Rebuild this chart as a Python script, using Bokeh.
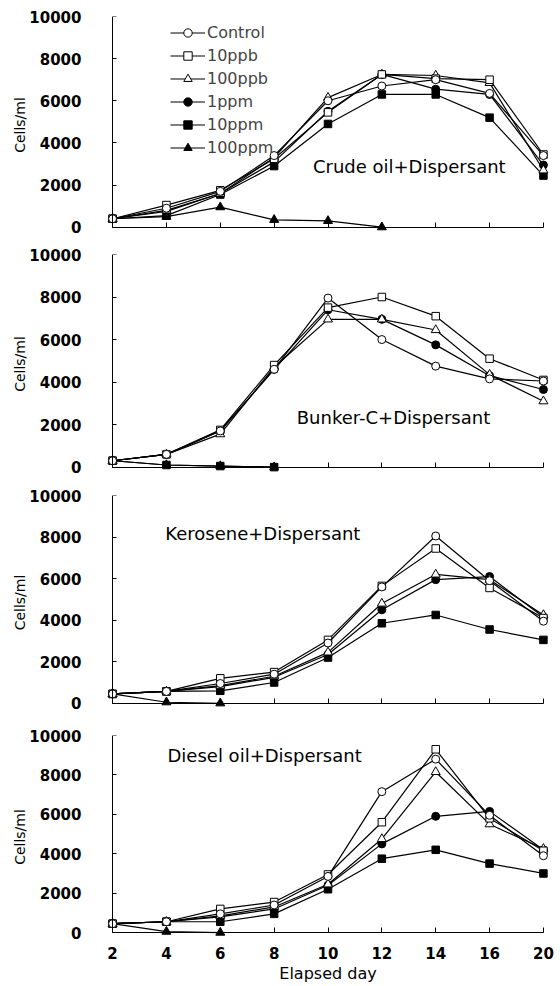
from bokeh.plotting import figure
from bokeh.layouts import column
from bokeh.models import (Range1d, FixedTicker, Label, Legend, LegendItem, LinearAxis,
                          CustomLabelingPolicy)
from bokeh.embed import file_html
from bokeh.resources import INLINE

days = ["2", "4", "6", "8", "10", "12", "14", "16", "20"]
series_names = ["Control", "10ppb", "100ppb", "1ppm", "10ppm", "100ppm"]
y_ticks = [0, 2000, 4000, 6000, 8000, 10000]

crude_control = [400, 900, 1700, 3400, 6000, 6700, 7000, 6350, 3400]
crude_10ppb = [400, 1050, 1750, 3250, 5450, 7250, 7050, 7000, 3450]
crude_100ppb = [400, 800, 1600, 3300, 6150, 7250, 7200, 6850, 2700]
crude_1ppm = [400, 750, 1600, 3100, 5500, 7250, 6550, 6300, 2950]
crude_10ppm = [400, 550, 1550, 2900, 4900, 6300, 6300, 5200, 2450]
crude_100ppm = [400, 500, 950, 350, 300, 0]

bunker_control = [300, 600, 1700, 4600, 7950, 6000, 4750, 4150, 4050]
bunker_10ppb = [300, 600, 1750, 4800, 7500, 8000, 7100, 5100, 4100]
bunker_100ppb = [300, 600, 1550, 4700, 6950, 6950, 6450, 4350, 3100]
bunker_1ppm = [300, 600, 1700, 4600, 7400, 6950, 5750, 4300, 3650]
bunker_10ppm = [300, 100, 50, 0]
bunker_100ppm = [300, 100, 50, 0]

kero_control = [450, 570, 950, 1400, 2900, 5600, 8050, 5900, 3950]
kero_10ppb = [450, 570, 1200, 1500, 3050, 5650, 7450, 5550, 4100]
kero_100ppb = [450, 570, 850, 1300, 2450, 4800, 6200, 5950, 4250]
kero_1ppm = [450, 570, 800, 1250, 2350, 4500, 5950, 6100, 4150]
kero_10ppm = [450, 570, 600, 1000, 2200, 3850, 4250, 3550, 3050]
kero_100ppm = [450, 50, 0]

diesel_control = [450, 550, 950, 1400, 2850, 7150, 8800, 5950, 3900]
diesel_10ppb = [450, 550, 1200, 1550, 2950, 5600, 9300, 5800, 4150]
diesel_100ppb = [450, 550, 850, 1300, 2450, 4750, 8150, 5500, 4250]
diesel_1ppm = [450, 550, 800, 1200, 2400, 4500, 5900, 6150, 4200]
diesel_10ppm = [450, 550, 550, 950, 2200, 3750, 4200, 3500, 3000]
diesel_100ppm = [450, 50, 0]

FONT = "DejaVu Sans"
STYLES = {
    "Control": ("circle", "white", 8),
    "10ppb": ("square", "white", 7.5),
    "100ppb": ("triangle", "white", 9),
    "1ppm": ("circle", "black", 8),
    "10ppm": ("square", "black", 7.5),
    "100ppm": ("triangle", "black", 9),
}

HIDE_CODE = """
try {
  const ids = Array.from(indices);
  for (const i of ids) { indices.unset(i); }
} catch (e) {}
return indices;
"""


def fixed_axis(bounds, ticks, tick_in):
    ax = LinearAxis(fixed_location=0, bounds=bounds, ticker=FixedTicker(ticks=ticks),
                    major_tick_in=tick_in, major_tick_out=0, minor_tick_line_color=None,
                    axis_line_color="black", major_tick_line_color="black",
                    major_label_standoff=0, major_label_text_font_size="0px",
                    major_label_policy=CustomLabelingPolicy(code=HIDE_CODE))
    return ax


def make_panel(series, title, tx, ty, frame_h, b_top, b_bottom, show_x, legend_pos=None):
    p = figure(frame_width=447, frame_height=frame_h,
               x_range=Range1d(-0.15, 8.15), y_range=Range1d(-300, 10000),
               output_backend="svg", toolbar_location=None,
               min_border_left=104, min_border_right=9,
               min_border_top=b_top, min_border_bottom=b_bottom)
    p.outline_line_color = None
    p.grid.visible = False
    p.background_fill_color = "white"

    # label-only axes on the frame edges
    ya = p.yaxis[0]
    ya.ticker = FixedTicker(ticks=y_ticks)
    ya.axis_line_color = None
    ya.major_tick_line_color = None
    ya.minor_tick_line_color = None
    ya.major_label_text_font = FONT
    ya.major_label_text_font_size = "15px"
    ya.major_label_text_font_style = "bold"
    ya.major_label_text_color = "black"
    ya.major_label_standoff = 17
    ya.axis_label = "Cells/ml"
    ya.axis_label_text_font = FONT
    ya.axis_label_text_font_size = "14px"
    ya.axis_label_text_font_style = "normal"
    ya.axis_label_text_color = "black"
    ya.axis_label_standoff = -2

    xa = p.xaxis[0]
    if show_x:
        xa.ticker = FixedTicker(ticks=list(range(len(days))))
        xa.major_label_overrides = {i: d for i, d in enumerate(days)}
        xa.axis_line_color = None
        xa.major_tick_line_color = None
        xa.minor_tick_line_color = None
        xa.major_label_text_font = FONT
        xa.major_label_text_font_size = "15px"
        xa.major_label_text_font_style = "bold"
        xa.major_label_text_color = "black"
        xa.major_label_standoff = 2
        xa.axis_label = "Elapsed day"
        xa.axis_label_text_font = FONT
        xa.axis_label_text_font_size = "16px"
        xa.axis_label_text_font_style = "normal"
        xa.axis_label_text_color = "black"
        xa.axis_label_standoff = 2
    else:
        xa.visible = False

    # axis lines and inward ticks at the data origin
    p.add_layout(fixed_axis((0, 10000), y_ticks, 4), "left")
    p.add_layout(fixed_axis((0, 8), list(range(len(days))), 5), "below")

    items = {}
    for name in reversed(series_names):
        vals = series[name]
        xs = list(range(len(vals)))
        marker, fill, size = STYLES[name]
        lr = p.line(xs, vals, line_color="black", line_width=1.2)
        sr = p.scatter(xs, vals, marker=marker, size=size, fill_color=fill,
                       line_color="black", line_width=1)
        items[name] = [lr, sr]

    p.add_layout(Label(x=tx, y=ty, text=title, text_font=FONT, text_font_size="18px",
                       text_baseline="middle", text_align="left", text_color="black"))

    if legend_pos is not None:
        leg = Legend(items=[LegendItem(label=n, renderers=items[n]) for n in series_names],
                     location=legend_pos, orientation="vertical",
                     border_line_alpha=0, background_fill_alpha=0,
                     padding=0, margin=0, spacing=2,
                     glyph_width=35, glyph_height=21, label_height=21,
                     label_standoff=2, label_text_font=FONT,
                     label_text_font_size="16px")
        p.add_layout(leg, "center")
    return p


p1 = make_panel({"Control": crude_control, "10ppb": crude_10ppb, "100ppb": crude_100ppb,
                 "1ppm": crude_1ppm, "10ppm": crude_10ppm, "100ppm": crude_100ppm},
                "Crude oil+Dispersant", 3.72, 2900, 217, 16, 13, False, legend_pos=(66, 75))
p2 = make_panel({"Control": bunker_control, "10ppb": bunker_10ppb, "100ppb": bunker_100ppb,
                 "1ppm": bunker_1ppm, "10ppm": bunker_10ppm, "100ppm": bunker_100ppm},
                "Bunker-C+Dispersant", 3.42, 2350, 219, 8, 14, False)
p3 = make_panel({"Control": kero_control, "10ppb": kero_10ppb, "100ppb": kero_100ppb,
                 "1ppm": kero_1ppm, "10ppm": kero_10ppm, "100ppm": kero_100ppm},
                "Kerosene+Dispersant", 0.98, 8150, 214, 8, 18, False)
p4 = make_panel({"Control": diesel_control, "10ppb": diesel_10ppb, "100ppb": diesel_100ppb,
                 "1ppm": diesel_1ppm, "10ppm": diesel_10ppm, "100ppm": diesel_100ppm},
                "Diesel oil+Dispersant", 1.02, 8970, 203, 8, 48, True)

layout = column(p1, p2, p3, p4, spacing=0)
open("out.html", "w").write(file_html(layout, INLINE))
